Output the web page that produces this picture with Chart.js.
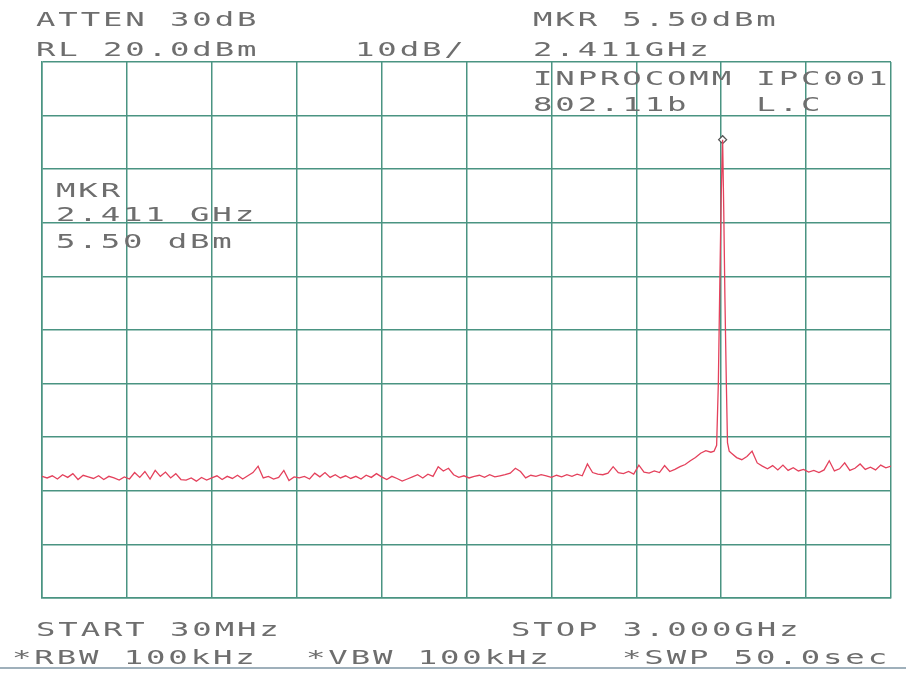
<!DOCTYPE html>
<html>
<head>
<meta charset="utf-8">
<script src="https://cdn.jsdelivr.net/npm/chart.js@4/dist/chart.umd.min.js"></script>
<style>
  html, body { margin: 0; padding: 0; background: #fff; }
  #wrap { position: relative; width: 906px; height: 680px; overflow: hidden; }
  #wrap canvas { position: absolute; left: 0; top: 0; }
  .lbl {
    position: absolute; white-space: pre; color: #6e6e6e;
    font-family: "DejaVu Sans Mono", monospace; font-size: 19px; line-height: 19px;
    letter-spacing: 1.7px; transform: scaleX(1.7); transform-origin: 0 0;
  }
  #edge { position: absolute; left: 0; top: 667px; width: 906px; height: 2px; background: #9fb0bb; }
</style>
</head>
<body>
<div id="wrap">
  <canvas id="chart" width="906" height="680"></canvas>
  <div id="edge"></div>
</div>
<script>
// sweep 30 MHz .. 3.000 GHz, reference level 20 dBm, 10 dB/div
const START_MHZ = 30;
const STOP_MHZ = 3000;
const REF_DBM = 20;
const BOTTOM_DBM = -80;

// grid divisions (10 x 10)
const xGridMHz = [30, 327, 624, 921, 1218, 1515, 1812, 2109, 2406, 2703, 3000];
const yGridDbm = [20, 10, 0, -10, -20, -30, -40, -50, -60, -70, -80];

// trace points
const sweepMHz = [
  30, 48, 66, 84, 102, 120, 138, 156, 174, 192,
  210, 228, 246, 264, 282, 300, 318, 336, 354, 372,
  390, 408, 426, 444, 462, 480, 498, 516, 534, 552,
  570, 588, 606, 624, 642, 660, 678, 696, 714, 732,
  750, 768, 786, 804, 822, 840, 858, 876, 894, 912,
  930, 948, 966, 984, 1002, 1020, 1038, 1056, 1074, 1092,
  1110, 1128, 1146, 1164, 1182, 1200, 1218, 1236, 1254, 1272,
  1290, 1308, 1326, 1344, 1362, 1380, 1398, 1416, 1434, 1452,
  1470, 1488, 1506, 1524, 1542, 1560, 1578, 1596, 1614, 1632,
  1650, 1668, 1686, 1704, 1722, 1740, 1758, 1776, 1794, 1812,
  1830, 1848, 1866, 1884, 1902, 1920, 1938, 1956, 1974, 1992,
  2010, 2028, 2046, 2064, 2082, 2100, 2118, 2136, 2154, 2172,
  2190, 2208, 2226, 2244, 2262, 2280, 2298, 2316, 2334, 2352, 2370,
  2381, 2390, 2396, 2401, 2406, 2411, 2415, 2419, 2424, 2428, 2434,
  2442, 2460, 2478, 2496, 2514, 2532, 2550, 2568, 2586, 2604,
  2622, 2640, 2658, 2676, 2694, 2712, 2730, 2748, 2766, 2784,
  2802, 2820, 2838, 2856, 2874, 2892, 2910, 2928, 2946, 2964,
  2982, 3000
];
const levelDbm = [
  -57.3, -57.6, -57.2, -57.8, -57.0, -57.5, -56.8, -57.9, -57.1, -57.4,
  -57.7, -57.2, -57.9, -57.3, -57.6, -58.0, -57.4, -57.8, -56.6, -57.5,
  -56.4, -57.8, -56.2, -57.3, -56.5, -57.6, -56.8, -57.9, -58.0, -57.6,
  -58.2, -57.5, -58.0, -57.6, -57.2, -57.9, -57.3, -57.7, -57.1, -57.8,
  -57.2, -56.6, -55.4, -57.6, -57.3, -57.8, -57.5, -56.2, -58.1, -57.4,
  -57.6, -57.3, -57.8, -56.7, -57.4, -56.6, -57.5, -57.0, -57.6, -57.2,
  -57.7, -57.3, -57.8, -57.1, -57.5, -56.8, -57.4, -57.9, -57.3, -57.7,
  -58.2, -57.8, -57.4, -57.0, -57.6, -56.9, -57.3, -55.5, -56.3, -55.8,
  -57.0, -57.5, -57.2, -57.6, -57.3, -57.1, -57.5, -57.0, -57.4, -57.2,
  -57.0, -56.7, -55.8, -56.4, -57.6, -57.1, -57.3, -57.0, -57.2, -57.5,
  -57.1, -57.4, -57.0, -57.3, -56.9, -57.2, -55.0, -56.6, -56.9, -57.0,
  -56.7, -55.5, -56.6, -56.8, -56.4, -56.9, -55.2, -56.5, -56.7, -56.3,
  -56.6, -55.3, -56.4, -56.0, -55.5, -55.1, -54.4, -53.8, -53.0, -52.5, -52.8,
  -52.6, -51.5, -40, -22, -5, 5.5, -8, -24, -40, -51, -52.6,
  -53.0, -53.8, -54.2, -53.6, -52.6, -54.8, -55.4, -55.9, -55.3, -56.1,
  -55.2, -56.2, -55.7, -56.3, -56.0, -56.5, -56.2, -56.6, -56.1, -54.4,
  -56.3, -55.9, -54.8, -56.2, -55.8, -55.0, -56.0, -55.6, -56.1, -55.2,
  -55.7, -55.4
];

const markerMHz = [2411];
const markerDbm = [5.5];

// annotation text of the plot
const labels = [
  ['ATTEN 30dB', 36, 12],
  ['MKR 5.50dBm', 533, 12],
  ['RL 20.0dBm', 36, 42],
  ['10dB/', 355, 42],
  ['2.411GHz', 533, 42],
  ['INPROCOMM IPC001', 533, 71],
  ['802.11b   L.C', 533, 97],
  ['MKR', 56, 183],
  ['2.411 GHz', 56, 207],
  ['5.50 dBm', 56, 234],
  ['START 30MHz', 36, 622],
  ['STOP 3.000GHz', 511, 622],
  ['*RBW 100kHz', 12, 650],
  ['*VBW 100kHz', 306, 650],
  ['*SWP 50.0sec', 622, 650]
];

const wrap = document.getElementById('wrap');
labels.forEach(([text, x, capTop]) => {
  const d = document.createElement('div');
  d.className = 'lbl';
  d.textContent = text;
  d.style.left = x + 'px';
  d.style.top = (capTop - 2) + 'px';
  wrap.appendChild(d);
});

const GRID = '#4a9482';

new Chart(document.getElementById('chart'), {
  type: 'scatter',
  data: {
    datasets: [
      {
        data: sweepMHz.map((f, i) => ({ x: f, y: levelDbm[i] })),
        showLine: true,
        borderColor: '#e4415c',
        borderWidth: 1.3,
        pointRadius: 0,
        tension: 0,
      },
      {
        data: markerMHz.map((f, i) => ({ x: f, y: markerDbm[i] })),
        pointStyle: 'rectRot',
        pointRadius: 4,
        borderColor: '#555',
        borderWidth: 1.2,
        backgroundColor: '#fff',
      },
    ],
  },
  options: {
    responsive: false,
    animation: false,
    layout: { padding: { left: 42, top: 62, right: 15, bottom: 82 } },
    plugins: { legend: { display: false }, tooltip: { enabled: false } },
    scales: {
      x: {
        type: 'linear',
        min: START_MHZ,
        max: STOP_MHZ,
        afterBuildTicks: (s) => { s.ticks = xGridMHz.map((v) => ({ value: v })); },
        ticks: { display: false },
        grid: { color: GRID, lineWidth: 1.5, drawTicks: false },
        border: { color: GRID, width: 1.5 },
      },
      y: {
        min: BOTTOM_DBM,
        max: REF_DBM,
        afterBuildTicks: (s) => { s.ticks = yGridDbm.map((v) => ({ value: v })); },
        ticks: { display: false },
        grid: { color: GRID, lineWidth: 1.5, drawTicks: false },
        border: { color: GRID, width: 1.5 },
      },
    },
  },
});
</script>
</body>
</html>
